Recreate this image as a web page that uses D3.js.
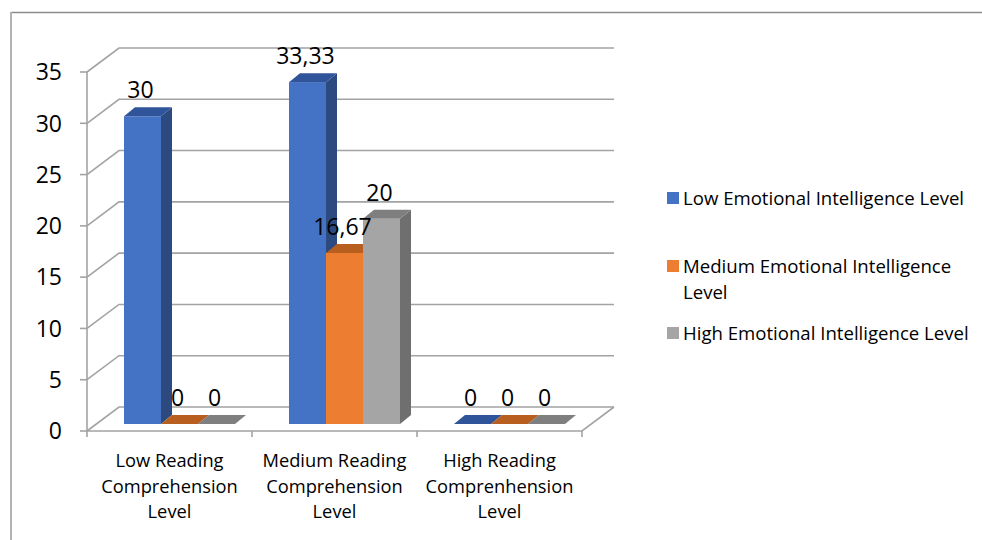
<!DOCTYPE html>
<html>
<head>
<meta charset="utf-8">
<script src="https://cdn.jsdelivr.net/npm/d3@7"></script>
<style>
  html, body { margin: 0; padding: 0; background: #fff; }
  svg { display: block; }
  text { font-family: "Open Sans", "Noto Sans", sans-serif; fill: #000; }
</style>
</head>
<body>
<svg id="chart" width="982" height="540"></svg>
<script>
// Reading comprehension level by emotional intelligence level (%)
const categories = [
  ["Low Reading", "Comprehension", "Level"],
  ["Medium Reading", "Comprehension", "Level"],
  ["High Reading", "Comprenhension", "Level"]
];
const seriesNames = [
  "Low Emotional Intelligence Level",
  "Medium Emotional Intelligence Level",
  "High Emotional Intelligence Level"
];
const lowEI    = [30, 33.33, 0];
const mediumEI = [0, 16.67, 0];
const highEI   = [0, 20, 0];
const yTicks   = [0, 5, 10, 15, 20, 25, 30, 35];

const seriesValues = [lowEI, mediumEI, highEI];
const palette = [
  { front: "#4472C4", side: "#2C4A80", top: "#30549A" },
  { front: "#ED7D31", side: "#B35E22", top: "#B85F20" },
  { front: "#A5A5A5", side: "#6F6F6F", top: "#7F7F7F" }
];

const svg = d3.select("#chart");
const fmt = d3.formatLocale({ decimal: ",", thousands: ".", grouping: [3], currency: ["", ""] }).format(".4~g");

// projection of the 3D box: front plane, wall depth and bar depth
const wallDepth = { dx: 32, dy: -24 };
const barOffset = { dx: 10, dy: -7 };
const barDepth  = { dx: 11, dy: -9 };

const catIdx = categories.map((d, i) => i);
const x0 = d3.scaleBand().domain(catIdx).range([87, 582]).paddingInner(0).paddingOuter(0);
const x1 = d3.scaleBand().domain([0, 1, 2]).range([27, 138]).padding(0);
const y = d3.scaleLinear().domain([0, 35]).range([431, 72]);

// chart border
svg.append("line").attr("x1", 11).attr("x2", 982).attr("y1", 12.5).attr("y2", 12.5)
  .attr("stroke", "#8c8c8c").attr("stroke-width", 1.3);
svg.append("line").attr("x1", 11).attr("x2", 11).attr("y1", 12).attr("y2", 540)
  .attr("stroke", "#b3b3b3").attr("stroke-width", 2);

const gridColor = "#a3a3a3";
const xLeft = x0.range()[0], xRight = x0.range()[1];
const backRight = xRight + wallDepth.dx;

// back wall gridlines and the side-wall diagonals
const grid = svg.append("g").attr("fill", "none").attr("stroke", gridColor).attr("stroke-width", 1.6);
yTicks.forEach(t => {
  const yy = y(t);
  grid.append("path").attr("d", d3.line()([
    [xLeft, yy], [xLeft + wallDepth.dx, yy + wallDepth.dy], [backRight, yy + wallDepth.dy]
  ]));
});
// floor front edge and right edge
grid.append("path").attr("d", d3.line()([
  [xLeft, y(0)], [xRight, y(0)], [backRight, y(0) + wallDepth.dy]
]));

// value axis
const yAxis = svg.append("g");
yAxis.append("line").attr("x1", xLeft).attr("x2", xLeft).attr("y1", y(35)).attr("y2", y(0))
  .attr("stroke", gridColor).attr("stroke-width", 1.6);
yTicks.forEach(t => {
  yAxis.append("line").attr("x1", xLeft - 7).attr("x2", xLeft).attr("y1", y(t)).attr("y2", y(t))
    .attr("stroke", gridColor).attr("stroke-width", 1.6);
  yAxis.append("text").attr("x", 62).attr("y", y(t)).attr("dy", "0.36em")
    .attr("text-anchor", "end").attr("font-size", 23).text(t);
});

// category axis ticks and labels
const xAxis = svg.append("g");
[...catIdx, catIdx.length].forEach(i => {
  const xx = i < catIdx.length ? x0(i) : xRight;
  xAxis.append("line").attr("x1", xx).attr("x2", xx).attr("y1", y(0)).attr("y2", y(0) + 6)
    .attr("stroke", gridColor).attr("stroke-width", 1.6);
});
categories.forEach((lines, i) => {
  const t = xAxis.append("text").attr("x", x0(i) + x0.bandwidth() / 2).attr("y", 467)
    .attr("text-anchor", "middle").attr("font-size", 18.3);
  lines.forEach((ln, k) => t.append("tspan").attr("x", x0(i) + x0.bandwidth() / 2)
    .attr("dy", k === 0 ? 0 : 25.5).text(ln));
});

// 3D columns
const bars = svg.append("g");
const polygon = pts => d3.line()(pts) + "Z";
catIdx.forEach(ci => {
  seriesValues.forEach((vals, si) => {
    const v = vals[ci];
    const xl = x0(ci) + x1(si) + barOffset.dx;
    const xr = xl + x1.bandwidth();
    const yb = y(0) + barOffset.dy;
    const yt = y(v) + barOffset.dy;
    const c = palette[si];
    const g = bars.append("g");
    // side face
    g.append("path").attr("fill", c.side).attr("d", polygon([
      [xr, yt], [xr + barDepth.dx, yt + barDepth.dy], [xr + barDepth.dx, yb + barDepth.dy], [xr, yb]
    ]));
    // front face
    g.append("rect").attr("x", xl).attr("y", yt).attr("width", xr - xl).attr("height", yb - yt)
      .attr("fill", c.front);
    // top face
    g.append("path").attr("fill", c.top).attr("d", polygon([
      [xl, yt], [xl + barDepth.dx, yt + barDepth.dy], [xr + barDepth.dx, yt + barDepth.dy], [xr, yt]
    ]));
  });
});

// value labels
const labels = svg.append("g");
catIdx.forEach(ci => {
  seriesValues.forEach((vals, si) => {
    const v = vals[ci];
    const cx = x0(ci) + x1(si) + barOffset.dx + x1.bandwidth() / 2 - 2;
    labels.append("text").attr("x", cx).attr("y", y(v) + barOffset.dy - 18)
      .attr("text-anchor", "middle").attr("font-size", 23).text(fmt(v));
  });
});

// legend, wrapping names that are wider than the legend column
const legendCenters = [198, 266, 333];
const legendMaxWidth = 296;
const legend = svg.append("g");
seriesNames.forEach((name, i) => {
  const cy = legendCenters[i];
  legend.append("rect").attr("x", 667).attr("y", cy - 6).attr("width", 12).attr("height", 12)
    .attr("fill", palette[i].front);
  const t = legend.append("text").attr("x", 683).attr("y", cy + 7).attr("font-size", 18.6);
  const words = name.split(" ");
  let line = [];
  let tspan = t.append("tspan").attr("x", 683).attr("dy", 0);
  words.forEach(w => {
    line.push(w);
    tspan.text(line.join(" "));
    if (tspan.node().getComputedTextLength() > legendMaxWidth && line.length > 1) {
      line.pop();
      tspan.text(line.join(" "));
      line = [w];
      tspan = t.append("tspan").attr("x", 683).attr("dy", 26).text(w);
    }
  });
});
</script>
</body>
</html>
